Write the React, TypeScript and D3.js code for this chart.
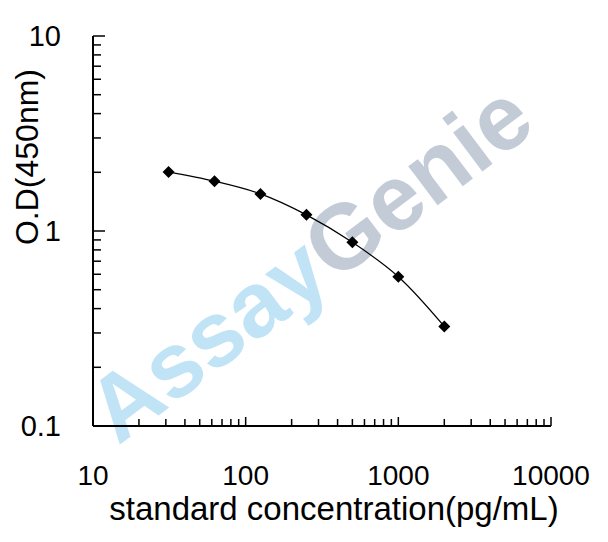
import React from "react";
import * as d3 from "d3";

const concentrations = [31.25, 62.5, 125, 250, 500, 1000, 2000];
const odValues = [2.01, 1.8, 1.55, 1.21, 0.875, 0.583, 0.324];
const xTickValues = [10, 100, 1000, 10000];
const xTickLabels = ["10", "100", "1000", "10000"];
const yTickValues = [0.1, 1, 10];
const yTickLabels = ["0.1", "1", "10"];
const xTitle = "standard concentration(pg/mL)";
const yTitle = "O.D(450nm)";
const watermarkA = "Assay";
const watermarkB = "Genie";

const W = 608;
const H = 542;
const FONT = "'Liberation Sans', Arial, sans-serif";

export default function App() {
  const x = d3.scaleLog().domain([10, 10000]).range([93, 551]);
  const y = d3.scaleLog().domain([0.1, 10]).range([426, 36]);

  const xMinor: number[] = [];
  const yMinor: number[] = [];
  for (const dec of [10, 100, 1000]) {
    for (let k = 2; k <= 9; k++) xMinor.push(dec * k);
  }
  for (const dec of [0.1, 1]) {
    for (let k = 2; k <= 9; k++) yMinor.push(dec * k);
  }

  const pts = concentrations.map((c, i) => [x(c), y(odValues[i])] as [number, number]);
  const line = d3.line<[number, number]>().x((d) => d[0]).y((d) => d[1]).curve(d3.curveCatmullRom.alpha(0.5));

  const diamond = (cx: number, cy: number, r: number) =>
    `M${cx},${cy - r}L${cx + r},${cy}L${cx},${cy + r}L${cx - r},${cy}Z`;

  const x0 = x.range()[0];
  const y0 = y.range()[0];

  return (
    <svg
      width={W}
      height={H}
      style={{ position: "absolute", left: 0, top: 0, background: "#fff" }}
      fontFamily={FONT}
    >
      <rect x={0} y={0} width={W} height={H} fill="#fff" />
      {/* watermark */}
      <g transform="translate(309,262) rotate(-37)">
        <text
          x={0}
          y={0}
          textAnchor="middle"
          dominantBaseline="central"
          fontSize={92}
          fontWeight="bold"
          fontFamily={FONT}
        >
          <tspan fill="#c0e4f6">{watermarkA}</tspan>
          <tspan fill="#c3ccd6">{watermarkB}</tspan>
        </text>
      </g>

      {/* axes */}
      <line x1={x0} y1={y.range()[1]} x2={x0} y2={y0} stroke="#000" strokeWidth={2} />
      <line x1={x0} y1={y0} x2={x.range()[1]} y2={y0} stroke="#000" strokeWidth={2} />

      {yTickValues.map((v) => (
        <line key={"ym" + v} x1={x0} x2={x0 + 12} y1={y(v)} y2={y(v)} stroke="#000" strokeWidth={1.5} />
      ))}
      {yMinor.map((v) => (
        <line key={"yn" + v} x1={x0} x2={x0 + 8} y1={y(v)} y2={y(v)} stroke="#000" strokeWidth={1.5} />
      ))}
      {xTickValues.map((v) => (
        <line key={"xm" + v} x1={x(v)} x2={x(v)} y1={y0} y2={y0 - 9} stroke="#000" strokeWidth={1.5} />
      ))}
      {xMinor.map((v) => (
        <line key={"xn" + v} x1={x(v)} x2={x(v)} y1={y0} y2={y0 - 7} stroke="#000" strokeWidth={1.5} />
      ))}

      {xTickValues.map((v, i) => (
        <text key={"xl" + v} x={x(v)} y={485} textAnchor="middle" fontSize={28} fill="#000">
          {xTickLabels[i]}
        </text>
      ))}
      {yTickValues.map((v, i) => (
        <text key={"yl" + v} x={61} y={y(v) + 10} textAnchor="end" fontSize={29} fill="#000">
          {yTickLabels[i]}
        </text>
      ))}

      <text x={334} y={519.5} textAnchor="middle" fontSize={33} fill="#000">
        {xTitle}
      </text>
      <text
        transform="translate(38,157) rotate(-90)"
        textAnchor="middle"
        fontSize={32}
        fill="#000"
      >
        {yTitle}
      </text>

      {/* data */}
      <path d={line(pts) || ""} fill="none" stroke="#000" strokeWidth={1.2} />
      {pts.map((p, i) => (
        <path key={"pt" + i} d={diamond(p[0], p[1], 6)} fill="#000" />
      ))}
    </svg>
  );
}
